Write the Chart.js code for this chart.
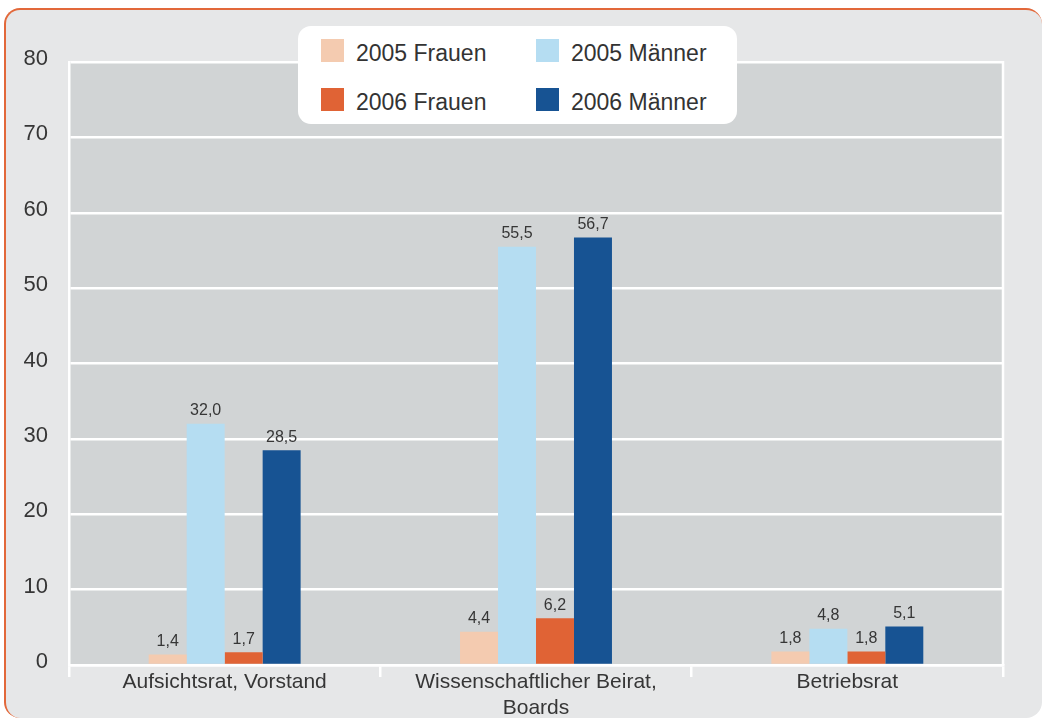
<!DOCTYPE html>
<html>
<head>
    <title>Gremienmitglieder 2005/2006</title>
    <script src="https://cdn.jsdelivr.net/npm/chart.js"></script>
    <style>
        body { margin: 0; background: #ffffff; font-family: "Liberation Sans", Arial, sans-serif; }
        #panel {
            position: absolute; left: 4px; top: 8px; width: 1036px; height: 708px;
            background: #e6e7e8; border-radius: 16px;
            border-top: 2.5px solid #e2683a; border-left: 2.5px solid #e2683a;
        }
        #wrap { position: absolute; left: 0; top: 0; width: 1042px; height: 719px; }
        #legend {
            position: absolute; left: 298px; top: 26px; width: 439px; height: 98px;
            background: #ffffff; border-radius: 13px;
        }
        .item { position: absolute; font-size: 23px; color: #333; white-space: nowrap; }
        .item span.box { position: absolute; left: 0; top: 0; width: 23px; height: 23px; }
        .item span.txt { position: absolute; left: 35px; top: 1px; line-height: 27px; }
    </style>
</head>
<body>
    <div id="panel"></div>
    <div id="wrap"><canvas id="chart" width="1042" height="719"></canvas></div>
    <div id="legend"></div>
    <script>
        const categories = ['Aufsichtsrat, Vorstand', ['Wissenschaftlicher Beirat,', 'Boards'], 'Betriebsrat'];
        const frauen2005 = [1.4, 4.4, 1.8];
        const maenner2005 = [32.0, 55.5, 4.8];
        const frauen2006 = [1.7, 6.2, 1.8];
        const maenner2006 = [28.5, 56.7, 5.1];
        const yTicks = [0, 10, 20, 30, 40, 50, 60, 70, 80];

        const textColor = '#363636';
        const fontFamily = '"Liberation Sans", Arial, sans-serif';

        // grey plot area plus white right edge
        const plotBackground = {
            id: 'plotBackground',
            beforeDraw(chart) {
                const { ctx, chartArea: a } = chart;
                ctx.save();
                ctx.fillStyle = '#d1d4d5';
                ctx.fillRect(a.left, a.top, a.right - a.left, a.bottom - a.top);
                ctx.strokeStyle = '#ffffff';
                ctx.lineWidth = 2.5;
                ctx.beginPath();
                ctx.moveTo(a.right, a.top - 1);
                ctx.lineTo(a.right, a.bottom);
                ctx.stroke();
                ctx.restore();
            }
        };

        // value above each bar, German decimal comma
        const valueLabels = {
            id: 'valueLabels',
            afterDatasetsDraw(chart) {
                const { ctx } = chart;
                ctx.save();
                ctx.font = '16px ' + fontFamily;
                ctx.fillStyle = textColor;
                ctx.textAlign = 'center';
                ctx.textBaseline = 'bottom';
                chart.data.datasets.forEach((ds, i) => {
                    chart.getDatasetMeta(i).data.forEach((bar, j) => {
                        const v = ds.data[j].toFixed(1).replace('.', ',');
                        ctx.fillText(v, bar.x, bar.y - 5);
                    });
                });
                ctx.restore();
            }
        };

        const ctx = document.getElementById('chart').getContext('2d');
        const chart = new Chart(ctx, {
            type: 'bar',
            data: {
                labels: categories,
                datasets: [
                    { label: '2005 Frauen', data: frauen2005, backgroundColor: '#f4cbb0' },
                    { label: '2005 Männer', data: maenner2005, backgroundColor: '#b5ddf2' },
                    { label: '2006 Frauen', data: frauen2006, backgroundColor: '#e06335' },
                    { label: '2006 Männer', data: maenner2006, backgroundColor: '#175393' }
                ]
            },
            options: {
                responsive: false,
                animation: false,
                layout: { padding: { left: 0, right: 39, top: 62, bottom: 0 } },
                datasets: { bar: { barPercentage: 1.0, categoryPercentage: 0.488 } },
                plugins: { legend: { display: false }, tooltip: { enabled: false } },
                scales: {
                    x: {
                        offset: true,
                        grid: { offset: true, drawOnChartArea: false, color: '#ffffff', lineWidth: 2.5, tickLength: 12 },
                        border: { color: '#ffffff', width: 2.5 },
                        ticks: { color: textColor, font: { family: fontFamily, size: 21, lineHeight: 1.25 }, padding: -8, maxRotation: 0 },
                        afterFit(s) { s.height = 54; }
                    },
                    y: {
                        min: 0, max: 80,
                        afterBuildTicks(s) { s.ticks = yTicks.map(v => ({ value: v })); },
                        grid: { color: '#ffffff', lineWidth: 2.5, drawTicks: false },
                        border: { color: '#ffffff', width: 2.5 },
                        ticks: { color: textColor, font: { family: fontFamily, size: 22 }, padding: 21, labelOffset: -3 },
                        afterFit(s) { s.width = 69; }
                    }
                }
            },
            plugins: [plotBackground, valueLabels]
        });

        // two-column legend in a white rounded box
        const legend = document.getElementById('legend');
        chart.data.datasets.forEach((ds, i) => {
            const col = i % 2, row = Math.floor(i / 2);
            const el = document.createElement('div');
            el.className = 'item';
            el.style.left = (23 + col * 215) + 'px';
            el.style.top = (13 + row * 49) + 'px';
            el.innerHTML = '<span class="box" style="background:' + ds.backgroundColor + '"></span><span class="txt">' + ds.label + '</span>';
            legend.appendChild(el);
        });
    </script>
</body>
</html>
